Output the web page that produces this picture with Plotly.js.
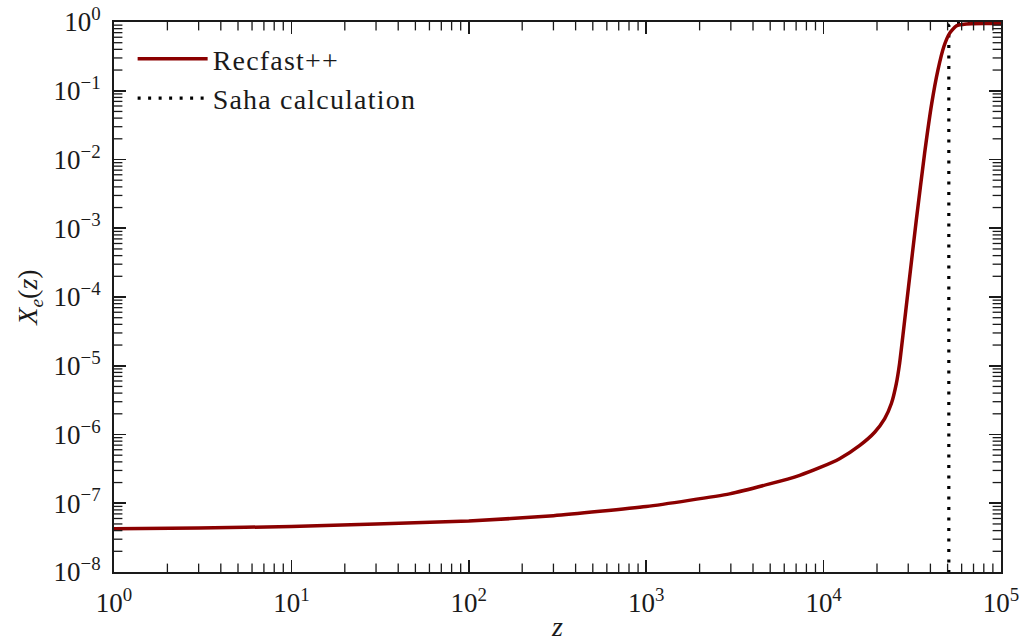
<!DOCTYPE html>
<html>
<head>
<meta charset="utf-8">
<script src="https://cdn.plot.ly/plotly-3.0.1.min.js"></script>
<style>html,body{margin:0;padding:0;background:#fff;}#chart{width:1022px;height:642px;}
.legendtext{letter-spacing:1.2px;}</style>
</head>
<body>
<div id="chart"></div>
<script>
const recfastZ = [1, 3, 10, 30, 100, 300, 1000, 2950, 4960, 7330, 9490, 12300, 16000, 19400, 22100, 24100, 25700, 26800, 28000, 30100, 33300, 37100, 40700, 44100, 47600, 51300, 55900, 63700, 80000, 100000];
const recfastXe = [4.25e-8, 4.38e-8, 4.58e-8, 5.0e-8, 5.5e-8, 6.6e-8, 8.95e-8, 1.37e-7, 1.91e-7, 2.55e-7, 3.29e-7, 4.45e-7, 6.95e-7, 1.08e-6, 1.70e-6, 2.82e-6, 5.5e-6, 1.07e-5, 2.77e-5, 1.40e-4, 1.31e-3, 1.23e-2, 6.55e-2, 0.2, 0.437, 0.684, 0.875, 0.935, 0.95, 0.952];
const sahaZ = [50800, 50800, 52000, 60000, 100000];
const sahaXe = [1e-10, 0.9, 0.94, 0.95, 0.952];
const xTickVals = [1, 10, 100, 1000, 10000, 100000];
const xTickText = ['10<sup>0</sup>', '10<sup>1</sup>', '10<sup>2</sup>', '10<sup>3</sup>', '10<sup>4</sup>', '10<sup>5</sup>'];
const yTickVals = [1e-8, 1e-7, 1e-6, 1e-5, 1e-4, 1e-3, 1e-2, 1e-1, 1];
const yTickText = ['10<sup>\u22128</sup>', '10<sup>\u22127</sup>', '10<sup>\u22126</sup>', '10<sup>\u22125</sup>', '10<sup>\u22124</sup>', '10<sup>\u22123</sup>', '10<sup>\u22122</sup>', '10<sup>\u22121</sup>', '10<sup>0</sup>'];
const seriesNames = ['Recfast++', 'Saha calculation'];

// minor tick positions 2..9 x 10^e (axis decoration)
function minorTicks(lo, hi) {
  const out = [];
  for (let e = lo; e < hi; e++) for (let m = 2; m <= 9; m++) out.push(m * Math.pow(10, e));
  return out;
}
const minorX = minorTicks(0, 5);
const minorY = minorTicks(-8, 0);
const xLo = xTickVals[0], xHi = xTickVals[xTickVals.length - 1];
const yLo = yTickVals[0], yHi = yTickVals[yTickVals.length - 1];

const FONT = '"Liberation Serif", "DejaVu Serif", serif';
const INK = '#1a1a1a';
const MINOR_SIZE = 12; // half of it (6px) lies inside the clipped plot area
const data = [
  {x: sahaZ, y: sahaXe, type: 'scatter', mode: 'lines', name: seriesNames[1], legendrank: 2,
   line: {color: '#000000', width: 3.2, dash: '3px,7.5px'}},
  {x: recfastZ, y: recfastXe, type: 'scatter', mode: 'lines', name: seriesNames[0], legendrank: 1,
   line: {color: '#8b0000', width: 3.5, shape: 'spline', smoothing: 0.5}},
  // minor ticks on bottom and top edges
  {x: minorX.concat(minorX), y: minorX.map(() => yLo).concat(minorX.map(() => yHi)),
   type: 'scatter', mode: 'markers', showlegend: false, hoverinfo: 'skip', cliponaxis: true,
   marker: {symbol: 'line-ns', size: MINOR_SIZE, color: INK, line: {color: INK, width: 1.3}}},
  // minor ticks on left and right edges
  {x: minorY.map(() => xLo).concat(minorY.map(() => xHi)), y: minorY.concat(minorY),
   type: 'scatter', mode: 'markers', showlegend: false, hoverinfo: 'skip', cliponaxis: true,
   marker: {symbol: 'line-ew', size: MINOR_SIZE, color: INK, line: {color: INK, width: 1.3}}}
];

function axis(extra) {
  return Object.assign({
    type: 'log', showline: true, linecolor: INK, linewidth: 2, mirror: 'allticks',
    ticks: 'inside', ticklen: 12, tickwidth: 1.6, tickcolor: INK,
    showgrid: false, zeroline: false, tickmode: 'array',
    tickfont: {family: FONT, size: 27, color: INK}
  }, extra);
}
const layout = {
  width: 1022, height: 642,
  margin: {l: 114, r: 21, t: 22, b: 70},
  paper_bgcolor: '#fff', plot_bgcolor: '#fff',
  font: {family: FONT, color: INK},
  showlegend: true,
  legend: {x: 0.021, y: 0.978, xanchor: 'left', yanchor: 'top', bgcolor: 'rgba(0,0,0,0)',
           font: {family: FONT, size: 28, color: INK}, itemwidth: 70, tracegroupgap: 0},
  xaxis: axis({
    range: [0, 5], tickvals: xTickVals, ticktext: xTickText, ticklabelstandoff: 6,
    title: {text: '<i>z</i>', font: {family: FONT, size: 28, color: INK}, standoff: 4}
  }),
  yaxis: axis({
    range: [-8, 0], tickvals: yTickVals, ticktext: yTickText, ticklabelstandoff: 6,
    title: {text: '<i>X<sub>e</sub></i>(<i>z</i>)', font: {family: FONT, size: 28, color: INK}, standoff: 8}
  })
};
Plotly.newPlot('chart', data, layout, {displayModeBar: false, staticPlot: true});
</script>
</body>
</html>
